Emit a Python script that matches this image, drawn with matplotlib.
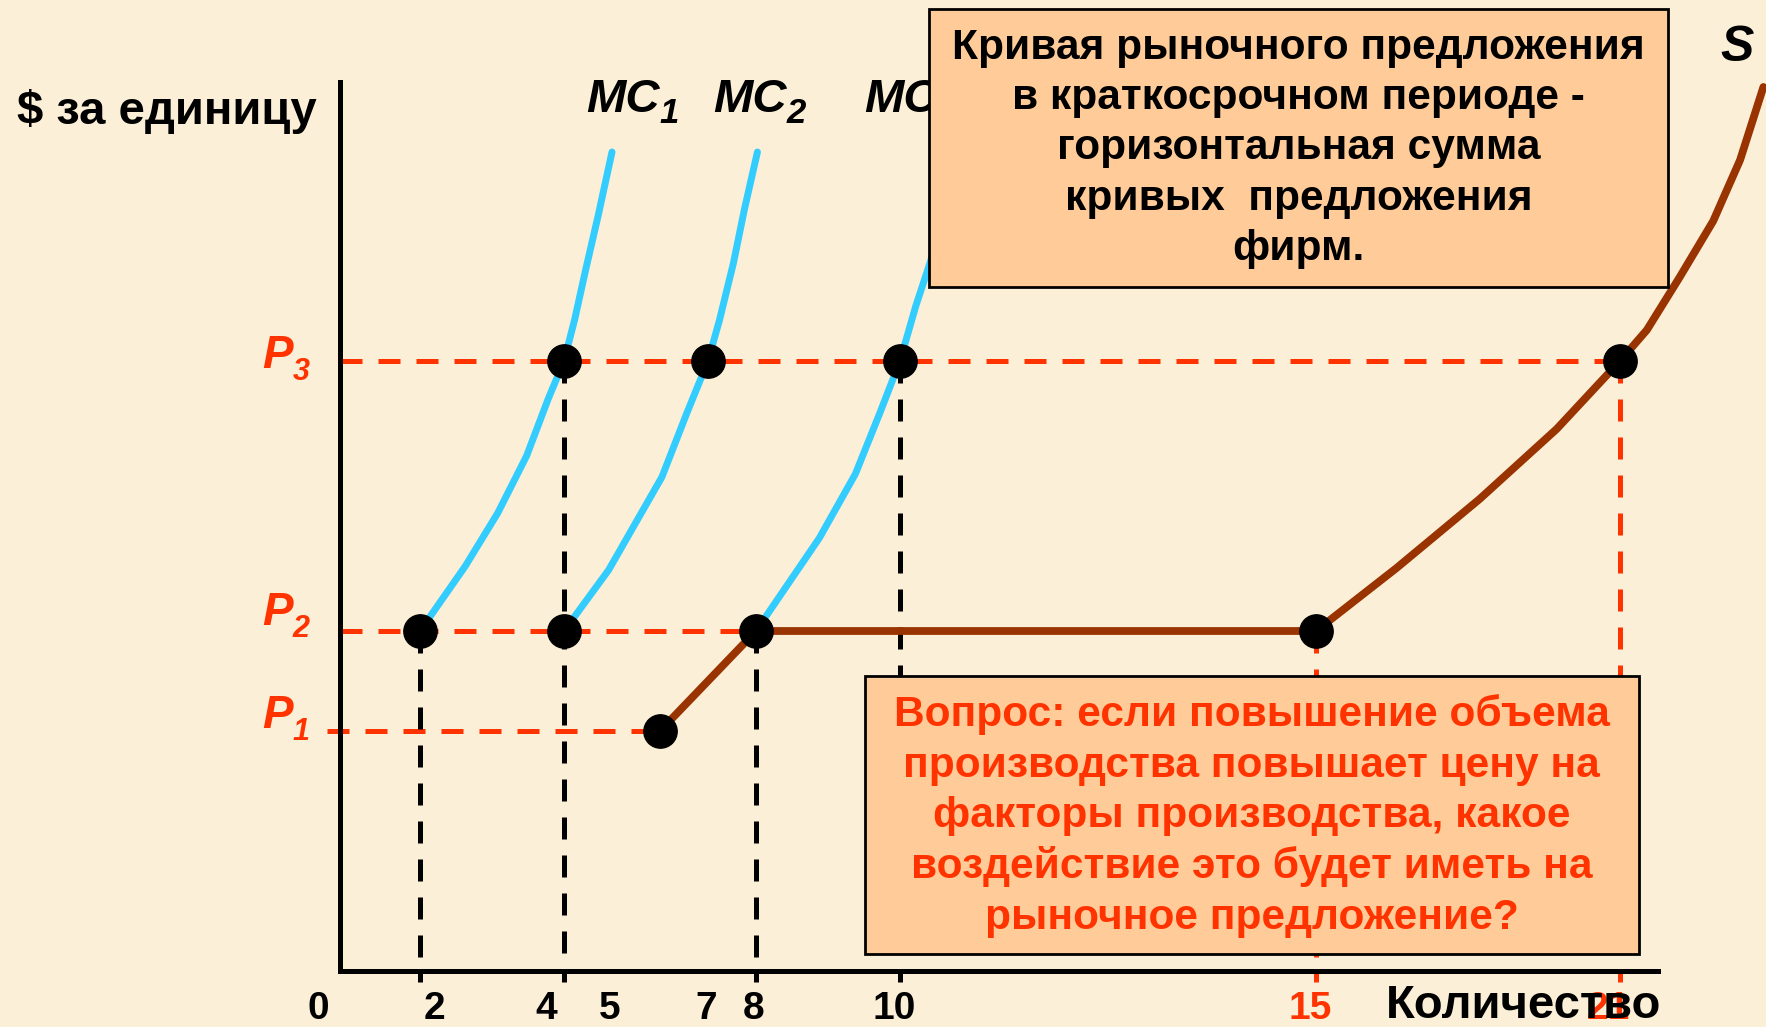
###############################################
####### [Importar Librerias] ##################
###############################################
import numpy as np
import matplotlib
matplotlib.use("Agg")
import matplotlib.pyplot as plt
from matplotlib.patches import Rectangle

plt.rcParams['font.family'] = ['Liberation Sans', 'DejaVu Sans']
plt.rcParams['font.weight'] = 'bold'

###############################################
########### [Datos] ###########################
###############################################
# niveles de precio
P1, P2, P3 = 2.4, 3.4, 6.1
p_levels = [P1, P2, P3]
p_subs = ['1', '2', '3']

# curvas MC de las firmas (cantidad, precio)
mc1_q = [2.0, 2.63, 3.08, 3.48, 3.78, 4.0, 4.22, 4.45, 4.71, 5.0]
mc1_p = [3.4, 4.05, 4.58, 5.15, 5.72, 6.1, 6.51, 7.01, 7.55, 8.19]
mc2_q = [4.0, 4.93, 6.04, 6.56, 7.0, 7.24, 7.53, 7.76, 8.02]
mc2_p = [3.4, 4.01, 4.94, 5.58, 6.1, 6.51, 7.08, 7.62, 8.19]
mc3_q = [8.0, 8.88, 9.38, 9.72, 10.0, 10.19, 10.36, 10.54, 10.72]
mc3_p = [3.4, 4.33, 4.97, 5.58, 6.1, 6.65, 7.08, 7.56, 8.19]

# curva de oferta de mercado S
s_q = [6.0, 8.0, 15.0, 16.59, 18.23, 19.75, 21.0, 21.53, 22.18, 22.84, 23.37, 23.83]
s_p = [2.4, 3.4, 3.4, 4.03, 4.72, 5.42, 6.1, 6.41, 6.94, 7.5, 8.11, 8.84]

# puntos marcados
dot_q = [2, 4, 8, 15, 6, 4, 7, 10, 21]
dot_p = [P2, P2, P2, P2, P1, P3, P3, P3, P3]

# lineas guia verticales
vb_q = [2, 4, 8, 10]
vb_p = [P2, P3, P2, P3]
vr_q = [15, 21]
vr_p = [P2, P3]

# lineas guia horizontales (desde, hasta)
h_from = [-0.33, 0, 0]
h_to = [6, 8, 21]

# etiquetas eje x
tick_q = [0, 2, 4, 5, 7, 8, 10, 15, 21]
tick_lab = ['0', '2', '4', '5', '7', '8', '10', '15', '21']
tick_col = ['black'] * 7 + ['#FF3300', '#FF3300']

mc_subs = ['1', '2', '3']
ylabel = '$ за единицу'
xlabel = 'Количество'
txt_top = ('Кривая рыночного предложения\n'
           'в краткосрочном периоде -\n'
           'горизонтальная сумма\n'
           'кривых  предложения\n'
           'фирм.')
txt_bot = ('Вопрос: если повышение объема\n'
           'производства повышает цену на\n'
           'факторы производства, какое\n'
           'воздействие это будет иметь на\n'
           'рыночное предложение?')

###############################################
########### [Estilo / layout] #################
###############################################
W, H = 1766, 1027
BG = '#FBEFD8'
RED = '#FF3300'
BLUE = '#33CCFF'
BROWN = '#993300'
BOX = '#FFCC99'
PT = 100 / 72.0  # px por punto

# escala del eje x (dibujo esquematico, no lineal)
q_knots = [-10, 0, 2, 4, 8, 10, 15, 21, 30]
x_knots = [-60, 340, 420, 564, 756, 900, 1316, 1620, 2076]


def fwd(q):
 return np.interp(q, q_knots, x_knots)


def inv(x):
 return np.interp(x, x_knots, q_knots)


def fx(x):
 return x / W


def fy(y):
 return 1 - y / H


fig = plt.figure(figsize=(W / 100, H / 100), dpi=100)
fig.patch.set_facecolor(BG)
rend = fig.canvas.get_renderer()


# etiqueta con subindice (texto principal + subindice separado)
def sub_label(x, yb, main, sub, size, subsize, drop, gap, color, z=3):
 t = fig.text(fx(x), fy(yb), main, ha='left', va='baseline', fontsize=size,
              style='italic', color=color, zorder=z)
 bb = t.get_window_extent(renderer=rend)
 fig.text(fx(bb.x1 + gap), fy(yb + drop), sub, ha='left', va='baseline',
          fontsize=subsize, style='italic', color=color, zorder=z)


ax = fig.add_axes([fx(340), fy(971), (1658 - 340) / W, (971 - 81.7) / H])
ax.set_facecolor('none')
ax.set_xscale('function', functions=(fwd, inv))
ax.set_xlim(0, inv(1658))
ax.set_ylim(0, (971 - 81.7) / 100)
ax.set_xticks([])
ax.set_yticks([])
ax.minorticks_off()
for sp in ['top', 'right']:
 ax.spines[sp].set_visible(False)
for sp in ['left', 'bottom']:
 ax.spines[sp].set_linewidth(3.6)
 ax.spines[sp].set_color('black')

###############################################
########### [Lineas guia] #####################
###############################################
dsh = (4.4, 3.2)
for a, b, p in zip(h_from, h_to, p_levels):
 ax.plot([a, b], [p, p], color=RED, lw=3.6, dashes=dsh, clip_on=False, zorder=2)
for q, p in zip(vb_q, vb_p):
 ax.plot([q, q], [p, -0.11], color='black', lw=3.6, dashes=dsh, clip_on=False, zorder=2)
for q, p in zip(vr_q, vr_p):
 ax.plot([q, q], [p, -0.11], color=RED, lw=3.6, dashes=dsh, clip_on=False, zorder=2)

###############################################
########### [Curvas] ##########################
###############################################
for qq, pp in [(mc1_q, mc1_p), (mc2_q, mc2_p), (mc3_q, mc3_p)]:
 ax.plot(qq, pp, color=BLUE, lw=5, solid_capstyle='round', solid_joinstyle='round',
         clip_on=False, zorder=3)
ax.plot(s_q, s_p, color=BROWN, lw=5.6, solid_capstyle='round', solid_joinstyle='round',
        clip_on=False, zorder=4)
ax.plot(dot_q, dot_p, 'o', color='black', ms=24, clip_on=False, zorder=5)

###############################################
########### [Textos] ##########################
###############################################
tick_dx = [-22, 14, -18, -2, -2, -2, -6, -6, -12]
for q, lab, c, dx in zip(tick_q, tick_lab, tick_col, tick_dx):
 ax.annotate(lab, xy=(q, 0), xycoords='data', xytext=(dx / PT, -38 / PT),
             textcoords='offset points', ha='center', va='center',
             fontsize=28, color=c, annotation_clip=False)

# P1, P2, P3 (linea base en px)
for sub, yb in zip(p_subs, [728, 625, 368]):
 sub_label(262, yb, 'P', sub, 33, 22, 12, 0, RED)

# MC1, MC2, MC3 (MC3 queda debajo del cuadro)
for sub, x0 in zip(mc_subs, [586, 713, 864]):
 sub_label(x0, 112, 'MC', sub, 34, 25, 11, 0, 'black')

fig.text(fx(1737), fy(48), 'S', ha='center', va='center', fontsize=36,
         style='italic', zorder=3)
fig.text(fx(17), fy(112), ylabel, ha='left', va='center', fontsize=34, zorder=3)
fig.text(fx(1386), fy(1006), xlabel, ha='left', va='center', fontsize=34, zorder=3)

# cuadros de texto
fig.add_artist(Rectangle((fx(929), fy(287)), (1668 - 929) / W, (287 - 9) / H,
                         transform=fig.transFigure, fc=BOX, ec='black', lw=2, zorder=10))
fig.text(fx(1298.5), fy(148.5), txt_top, ha='center', va='center',
         multialignment='center', fontsize=30.6, linespacing=1.33, zorder=11)
fig.add_artist(Rectangle((fx(864.6), fy(954)), (1638.6 - 864.6) / W, (954 - 676) / H,
                         transform=fig.transFigure, fc=BOX, ec='black', lw=2, zorder=10))
fig.text(fx(1251.6), fy(816), txt_bot, ha='center', va='center', color=RED,
         multialignment='center', fontsize=30.6, linespacing=1.33, zorder=11)

fig.savefig('out.png', dpi=100, facecolor=BG)
